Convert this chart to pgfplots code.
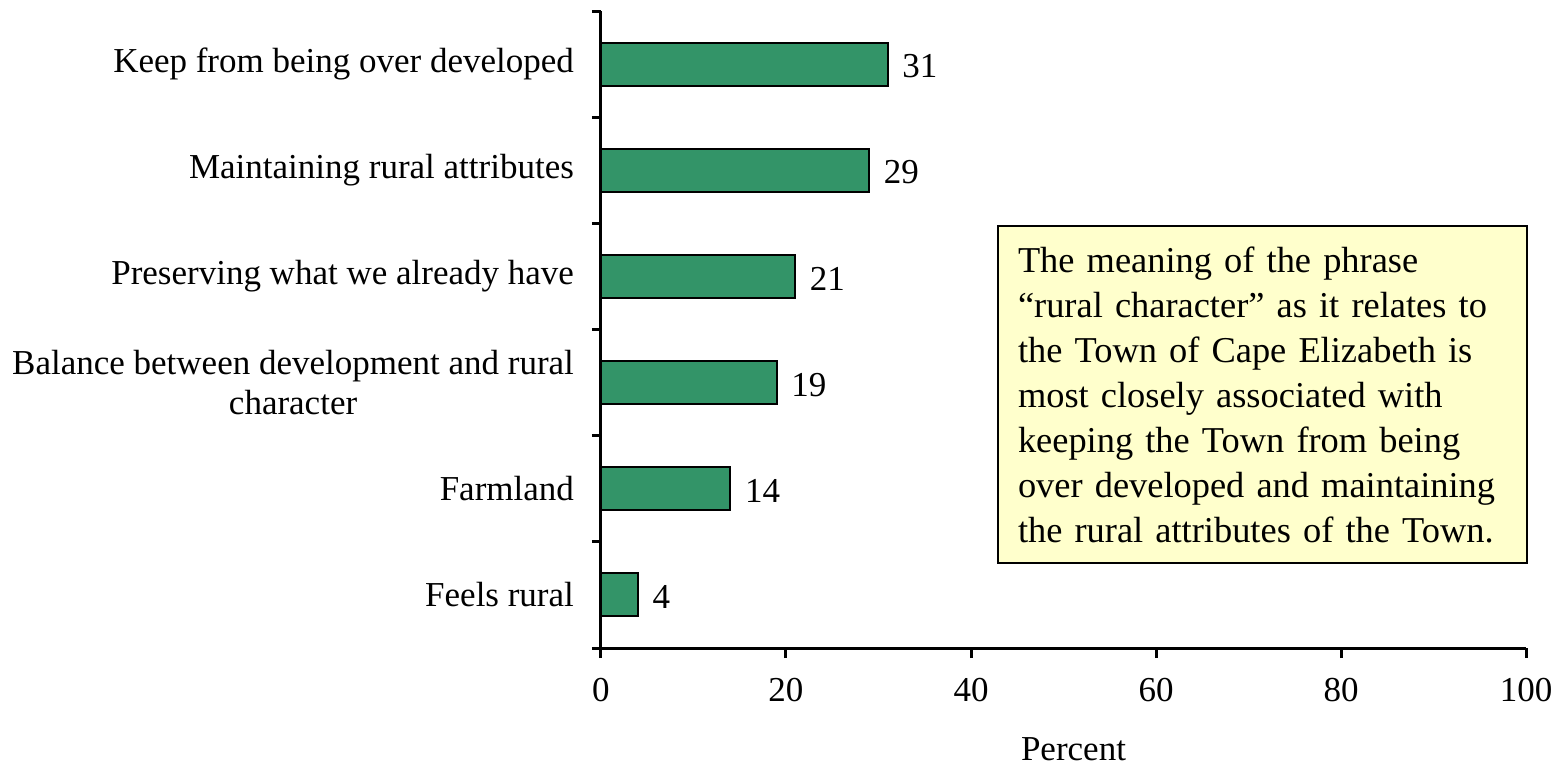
\documentclass[border=0pt]{standalone}
\usepackage{fontspec}
\setmainfont{Liberation Serif}
\usepackage{pgfplots}
\pgfplotsset{compat=1.18}
\definecolor{bargreen}{RGB}{51,148,104}
\definecolor{boxyellow}{RGB}{255,255,204}
\newcommand{\lab}{\fontsize{17.5}{20}\selectfont}
\begin{document}
\begin{tikzpicture}
\useasboundingbox (-300.5pt,-58.5pt) rectangle (480.5pt,324pt);
\begin{axis}[
  at={(0,0)}, anchor=south west,
  scale only axis,
  width=462.5pt, height=318.5pt,
  xbar, bar width=21.5pt,
  xmin=0, xmax=100, ymin=0.5, ymax=6.5,
  axis x line*=bottom, axis y line*=left,
  axis line style={line width=1.5pt, -},
  xtick={0,20,40,60,80,100},
  ytick={1,2,3,4,5,6},
  yticklabels={Feels rural, Farmland, {Balance between development and rural\\character}, Preserving what we already have, Maintaining rural attributes, Keep from being over developed},
  minor ytick={0.5,1.5,2.5,3.5,4.5,5.5,6.5},
  tick align=outside,
  major tick length=5pt,
  minor tick length=4.5pt,
  every major y tick/.append style={draw=none},
  every minor y tick/.append style={draw=black, line width=1.5pt},
  every major x tick/.append style={line width=1.5pt, black},
  tick label style={font=\lab},
  yticklabel style={align=center, xshift=-5pt},
  xticklabel style={yshift=-6.5pt},
  /pgf/number format/assume math mode=true,
  xlabel={Percent},
  xlabel style={font=\lab, yshift=-11pt, xshift=5pt},
  nodes near coords,
  nodes near coords style={font=\lab, anchor=west, xshift=3.5pt, yshift=-1pt},
  clip=false,
]
\addplot[fill=bargreen, draw=black, line width=1pt] coordinates {
  (4,1) (14,2) (19,3) (21,4) (29,5) (31,6)
};
\end{axis}
\node[draw=black, line width=1pt, fill=boxyellow, anchor=north west,
      inner sep=10pt, text width=244.5pt, minimum height=168.5pt,
      align=left, font=\fontsize{18.2}{22.5}\selectfont]
  at (198pt,211.5pt) {The meaning of the phrase\\
“rural character” as it relates to\\
the Town of Cape Elizabeth is\\
most closely associated with\\
keeping the Town from being\\
over developed and maintaining\\
the rural attributes of the Town.};
\end{tikzpicture}
\end{document}
